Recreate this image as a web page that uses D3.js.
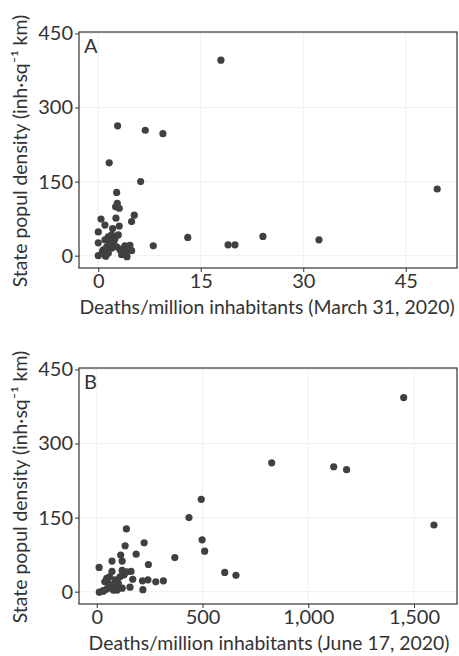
<!DOCTYPE html>
<html>
<head>
<meta charset="utf-8">
<script src="https://cdn.jsdelivr.net/npm/d3@7"></script>
<style>
  body { margin: 0; background: #fff; }
  svg text { font-family: Lato, "Open Sans", sans-serif; fill: #333; }
</style>
</head>
<body>
<div id="chart"></div>
<script>
//data ************************************************************
var deathsMarch = [17.95, 49.6, 2.83, 6.88, 9.46, 1.6, 6.2, 2.69, 2.78, 3.07, 2.54, 5.27, 4.88,
  0.4, 0.98, 2.59, 3.07, 0.0, 2.1, 1.46, 0.98, 0.0, 1.96, 2.44, 2.69, 1.96, 1.23, 0.73, 0.0,
  0.98, 1.46, 3.18, 3.42, 3.9, 4.64, 4.15, 4.88, 4.2, 1.1, 1.7, 2.93, 13.1, 19.0, 20.0, 24.1,
  32.3, 8.05, 2.3, 0.6, 2.0, 3.5];
var densityMarch = [396, 135, 263, 254, 247, 188, 150, 128, 106, 96, 99, 82, 69,
  74, 62, 76, 60, 48, 55, 38, 32, 26, 42, 35, 18, 15, 18, 12, 0,
  1, 5, 12, 2, 20, 21, 8, 10, -2, -1, 25, 42, 37, 22, 22, 39,
  32, 20, 30, 8, 22, 14];

var deathsJune = [1451, 1594, 827, 1120, 1181, 494, 436, 498, 510, 369, 605, 658, 315, 279,
  242, 218, 244, 224, 140, 134, 186, 113, 120, 72, 11, 72, 120, 129, 162, 170, 157, 120, 216,
  12, 31, 47, 63, 47, 55, 86, 86, 79, 95, 102, 38, 60, 100, 140, 30, 75, 110];
var densityJune = [393, 135, 261, 253, 247, 187, 150, 105, 82, 69, 39, 33, 22, 20,
  24, 4, 55, 99, 127, 93, 76, 74, 62, 62, 49, 41, 43, 34, 41, 25, 9, 7, 22,
  -1, 1, 5, 10, 27, 17, 24, 15, 3, 3, 17, 20, 30, 10, 40, 2, 12, 30];

var xTicksMarch = [0, 15, 30, 45];
var xTicksJune = [0, 500, 1000, 1500];
var yTicks = [0, 150, 300, 450];

//variables ************************************************************
var width = 459, height = 656;
var left = 79, right = 457;
var panelH = 236;
var fontSize = 20;
var fmt = d3.format(",");

var svg = d3.select("#chart").append("svg")
  .attr("width", width)
  .attr("height", height);

var panels = [
  { label: "A", top: 32, xs: deathsMarch, ys: densityMarch, xTicks: xTicksMarch,
    xDomain: [-2.82, 52.5], title: "Deaths/million inhabitants (March 31, 2020)", titleY: 314, titleX: 267 },
  { label: "B", top: 368, xs: deathsJune, ys: densityJune, xTicks: xTicksJune,
    xDomain: [-84, 1703], title: "Deaths/million inhabitants (June 17, 2020)", titleY: 650, titleX: 269 }
];

//drawing each panel ************************************************************
panels.forEach(function(p) {
  var x = d3.scaleLinear().domain(p.xDomain).range([left, right]);
  var y = d3.scaleLinear().domain([-25, 453]).range([p.top + panelH, p.top]);

  var g = svg.append("g");

  // grid
  g.selectAll(".vgrid").data(p.xTicks).enter().append("line")
    .attr("x1", function(d) { return x(d); }).attr("x2", function(d) { return x(d); })
    .attr("y1", p.top).attr("y2", p.top + panelH)
    .attr("stroke", "#ececec").attr("stroke-width", 0.8);
  g.selectAll(".hgrid").data(yTicks).enter().append("line")
    .attr("x1", left).attr("x2", right)
    .attr("y1", function(d) { return y(d); }).attr("y2", function(d) { return y(d); })
    .attr("stroke", "#ececec").attr("stroke-width", 0.8);

  // points
  g.selectAll("circle").data(p.xs).enter().append("circle")
    .attr("cx", function(d) { return x(d); })
    .attr("cy", function(d, i) { return y(p.ys[i]); })
    .attr("r", 3.6)
    .attr("fill", "#404040");

  // axes
  var xAxis = d3.axisBottom(x).tickValues(p.xTicks).tickSize(4).tickPadding(2)
    .tickFormat(function(d) { return fmt(d); });
  var yAxis = d3.axisLeft(y).tickValues(yTicks).tickSize(4).tickPadding(2);

  var gx = g.append("g").attr("transform", "translate(0," + (p.top + panelH) + ")").call(xAxis);
  var gy = g.append("g").attr("transform", "translate(" + left + ",0)").call(yAxis);
  [gx, gy].forEach(function(a) {
    a.select(".domain").remove();
    a.selectAll("line").attr("stroke", "#333");
    a.selectAll("text").attr("font-size", fontSize).attr("fill", "#333")
      .style("font-family", "Lato, 'Open Sans', sans-serif");
  });

  // frame
  g.append("rect")
    .attr("x", left).attr("y", p.top)
    .attr("width", right - left).attr("height", panelH)
    .attr("fill", "none").attr("stroke", "#333").attr("stroke-width", 1.2);

  // panel letter
  g.append("text")
    .attr("x", left + 5).attr("y", p.top + 21)
    .attr("font-size", fontSize)
    .text(p.label);

  // axis titles
  g.append("text")
    .attr("x", p.titleX).attr("y", p.titleY)
    .attr("text-anchor", "middle")
    .attr("font-size", 19.4)
    .text(p.title);

  g.append("text")
    .attr("transform", "translate(27," + (p.top + panelH / 2 + 1) + ") rotate(-90)")
    .attr("text-anchor", "middle")
    .attr("font-size", 19.4)
    .text("State popul density (inh\u00b7sq\u207b\u00b9 km)");
});
</script>
</body>
</html>
